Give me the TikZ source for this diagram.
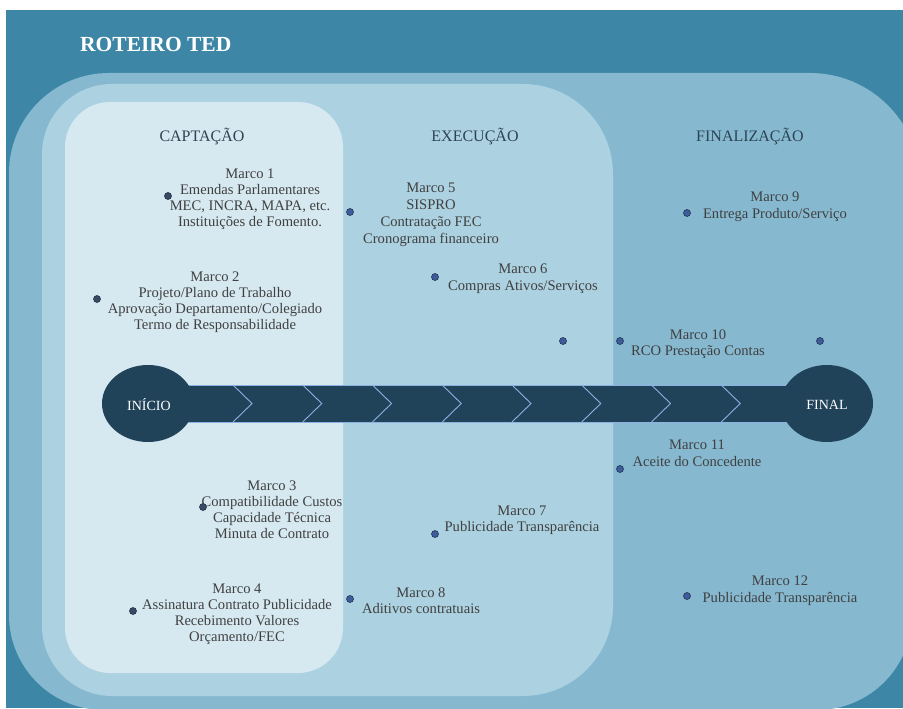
\documentclass[tikz,border=0pt]{standalone}
\usepackage{fontspec}
\usetikzlibrary{shapes.geometric}
\setmainfont{Liberation Serif}
\definecolor{outerc}{HTML}{3D86A6}
\definecolor{lay2}{HTML}{86B9D0}
\definecolor{lay3}{HTML}{ACD1E1}
\definecolor{lay4}{HTML}{D6E9F1}
\definecolor{bandc}{HTML}{21435A}
\definecolor{chevc}{HTML}{8DB1E2}
\definecolor{txtc}{HTML}{404040}
\definecolor{headc}{HTML}{2D4454}
\definecolor{dotc}{HTML}{3D5C9E}
\definecolor{dotdark}{HTML}{25324A}
\definecolor{dotmid}{HTML}{3A4A63}
\begin{document}
\begin{tikzpicture}[x=1pt,y=-1pt,
  txt/.style={anchor=north, inner sep=0pt, align=center, text=txtc, font=\fontsize{14.6}{16}\selectfont},
  txtwide/.style={txt, font=\fontsize{14.6}{17}\selectfont},
  heading/.style={anchor=base, inner sep=0pt, text=headc, font=\fontsize{16}{18}\selectfont},
  endnode/.style={ellipse, fill=bandc, minimum width=92pt, minimum height=77pt, inner sep=0pt},
  endtxt/.style={anchor=base, inner sep=0pt, text=white, font=\fontsize{14}{16}\selectfont},
  dot/.style={circle, fill=dotc, draw=dotdark, line width=0.6pt, minimum size=7pt, inner sep=0pt},
  dotA/.style={dot, fill=dotmid, minimum size=7pt},
  chevline/.style={draw=chevc, line width=0.9pt},
]
\useasboundingbox (0,0) rectangle (903,709);
% outer background
\fill[outerc] (6,10) rectangle (903,708);
\begin{scope}
\clip (6,10) rectangle (903,708);
% layer 2
\fill[lay2] (9,173) arc[start angle=180,end angle=270,radius=100]
  -- (810,73) arc[start angle=270,end angle=360,radius=110]
  -- (912,615) arc[start angle=0,end angle=90,radius=95]
  -- (104,710) arc[start angle=90,end angle=180,radius=95] -- cycle;
\end{scope}
% layer 3
\fill[lay3] (42,154) arc[start angle=180,end angle=270,radius=70]
  -- (523,84) arc[start angle=270,end angle=360,radius=90]
  -- (613,606) arc[start angle=0,end angle=90,radius=90]
  -- (112,696) arc[start angle=90,end angle=180,radius=70] -- cycle;
% layer 4
\fill[lay4] (65,147) arc[start angle=180,end angle=270,radius=45]
  -- (298,102) arc[start angle=270,end angle=360,radius=45]
  -- (343,628) arc[start angle=0,end angle=90,radius=45]
  -- (110,673) arc[start angle=90,end angle=180,radius=45] -- cycle;

% title
\node[anchor=base west, inner sep=0pt, text=white, font=\fontsize{21.5}{24}\selectfont\bfseries] (title) at (80,51.5) {ROTEIRO TED};

% headings
\node[heading] (hcap) at (202,141) {CAPTAÇÃO};
\node[heading] (hexe) at (475,141) {EXECUÇÃO};
\node[heading] (hfin) at (750,141) {FINALIZAÇÃO};

% band
\fill[bandc] (185,385) rectangle (790,422);
\draw[chevline] (188,385) -- (786,385);
\draw[chevline] (188,422) -- (786,422);
\foreach \i in {0,...,7} {
  \pgfmathsetmacro{\xb}{233+69.75*\i}
  \draw[chevline] (\xb,385) -- ({\xb+19},403.5) -- (\xb,422);
}
\node[endnode] (inicio) at (148,403.5) {};
\node[endnode] (final) at (827,403.5) {};
\node[endtxt] (tini) at (149,410) {INÍCIO};
\node[endtxt] (tfin) at (827,409) {FINAL};

% milestone texts
\node[txt] (m1) at (250,168.4) {Marco 1\\Emendas Parlamentares\\MEC, INCRA, MAPA, etc.\\Instituições de Fomento.};
\node[txt] (m2) at (215,272.1) {Marco 2\\Projeto/Plano de Trabalho\\Aprovação Departamento/Colegiado\\Termo de Responsabilidade};
\node[txt] (m3) at (272,480.9) {Marco 3\\Compatibilidade Custos\\Capacidade Técnica\\Minuta de Contrato};
\node[txt] (m4) at (237,584.1) {Marco 4\\Assinatura Contrato Publicidade\\Recebimento Valores\\Orçamento/FEC};
\node[txtwide] (m5) at (431,183.1) {Marco 5\\SISPRO\\Contratação FEC\\Cronograma financeiro};
\node[txtwide] (m6) at (523,264.1) {Marco 6\\Compras Ativos/Serviços};
\node[txt] (m7) at (522,506.1) {Marco 7\\Publicidade Transparência};
\node[txt] (m8) at (421,587.1) {Marco 8\\Aditivos contratuais};
\node[txtwide] (m9) at (775,192.1) {Marco 9\\Entrega Produto/Serviço};
\node[txt] (m10) at (698,329.1) {Marco 10\\RCO Prestação Contas};
\node[txtwide] (m11) at (697,440.1) {Marco 11\\Aceite do Concedente};
\node[txtwide] (m12) at (780,576.1) {Marco 12\\Publicidade Transparência};

% dots
\node[dotA] (d1) at (168,196) {};
\node[dotA] (d2) at (97,299) {};
\node[dotA] (d3) at (203,507) {};
\node[dotA] (d4) at (133,611) {};
\node[dot] (d5) at (350,212) {};
\node[dot] (d6) at (435,277) {};
\node[dot] (d7) at (435,534) {};
\node[dot] (d8) at (350,599) {};
\node[dot] (d9) at (687,213) {};
\node[dot] (d10a) at (563,341) {};
\node[dot] (d10b) at (620,341) {};
\node[dot] (d10c) at (820,341) {};
\node[dot] (d11) at (620,469) {};
\node[dot] (d12) at (687,596) {};
\end{tikzpicture}
\end{document}
